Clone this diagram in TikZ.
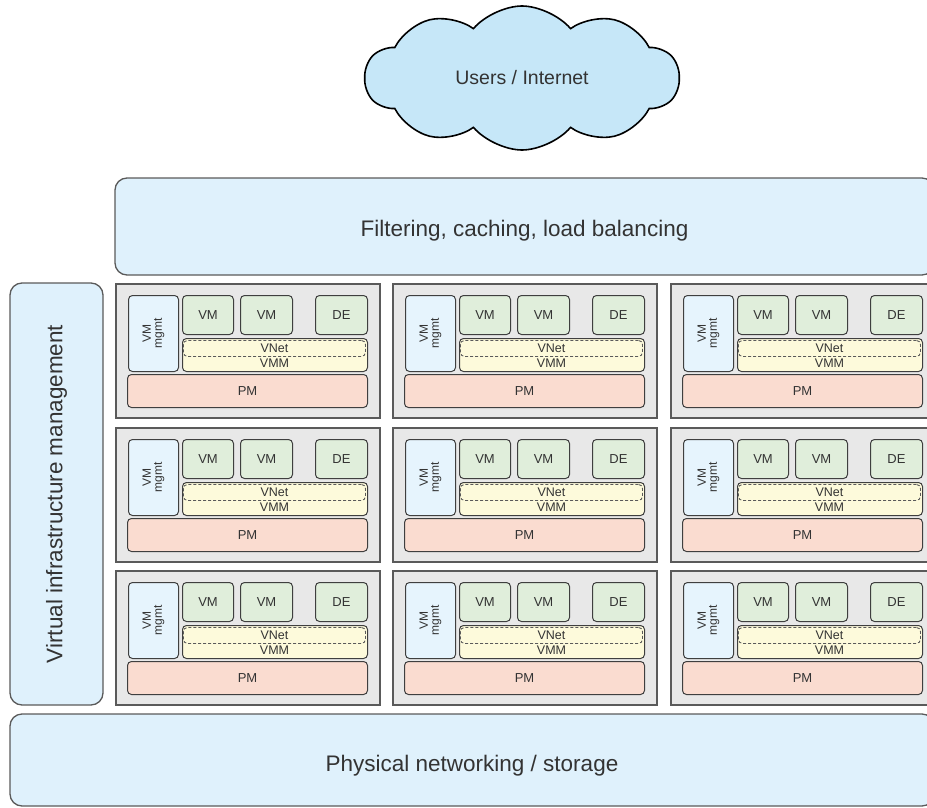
\documentclass[tikz,border=0pt]{standalone}
\usepackage{fontspec}
\setmainfont{Liberation Sans}
\usetikzlibrary{shapes.symbols}
\definecolor{boxblue}{HTML}{DFF1FC}
\definecolor{cloudblue}{HTML}{C6E7F8}
\definecolor{cellgray}{HTML}{E8E8E8}
\definecolor{mgmtblue}{HTML}{E6F4FD}
\definecolor{vmgreen}{HTML}{E0EEDB}
\definecolor{vmmyellow}{HTML}{FDFADB}
\definecolor{pmred}{HTML}{FADCD0}
\definecolor{textgray}{HTML}{333333}
\definecolor{linegray}{HTML}{5A5A5A}
\tikzset{
	bigbox/.style={draw=linegray, line width=1.3pt, fill=boxblue, rounded corners=12pt, inner sep=0pt, text=textgray, font=\fontsize{22.5}{27}\selectfont},
	cellbox/.style={draw=linegray, line width=1.8pt, fill=cellgray, anchor=north west, inner sep=0pt, minimum width=264pt, minimum height=134pt},
	smallbox/.style={draw=linegray!70!black, line width=1pt, rounded corners=4pt, anchor=north west, inner sep=0pt, text=textgray, font=\fontsize{13}{13}\selectfont},
	tinytext/.style={text=textgray, inner sep=0pt, font=\fontsize{12.5}{12.5}\selectfont}
}
\newcommand{\hostcell}[3] % name, x in px, y in px
{
	% grey frame
	\node[cellbox] (#1) at (#2,#3) {};
	% vm management
	\node[smallbox, fill=mgmtblue, minimum width=50pt, minimum height=76pt,
		label={[tinytext, rotate=90, align=center, font=\fontsize{12}{11}\selectfont]center:VM\\mgmt}] (#1mgmt) at (#2+13,#3+12) {};
	% guests
	\node[smallbox, fill=vmgreen, minimum width=51pt, minimum height=39pt] (#1vma) at (#2+67,#3+12) {VM};
	\node[smallbox, fill=vmgreen, minimum width=52pt, minimum height=39pt] (#1vmb) at (#2+125,#3+12) {VM};
	\node[smallbox, fill=vmgreen, minimum width=52pt, minimum height=39pt] (#1de) at (#2+200,#3+12) {DE};
	% hypervisor and virtual network
	\node[smallbox, fill=vmmyellow, minimum width=185pt, minimum height=33pt] (#1vmm) at (#2+67,#3+55) {};
	\node[tinytext, anchor=base] at (#2+159.5,#3+84.5) {VMM};
	\node[smallbox, draw=linegray, densely dashed, line width=0.9pt, minimum width=182pt, minimum height=16pt] (#1vnet) at (#2+68,#3+57) {};
	\node[tinytext] at (#1vnet.center) {VNet};
	% physical machine
	\node[smallbox, fill=pmred, minimum width=240pt, minimum height=33pt] (#1pm) at (#2+12,#3+91) {PM};
}

\begin{document}
\begin{tikzpicture}[x=1pt, y=-1pt]
	% 927 x 808 px, right side cut off
	\useasboundingbox (0,0) rectangle (927,808);
	\clip (0,0) rectangle (927,808);
	
	\node[cloud, cloud puffs=10, cloud puff arc=100, aspect=2.2, draw=black, line width=1.6pt, fill=cloudblue,
		minimum width=314pt, minimum height=144pt, text=textgray, font=\fontsize{19.5}{23}\selectfont] (users) at (522,78) {Users / Internet};
	
	\node[bigbox, minimum width=819pt, minimum height=97pt, text height=19pt, text depth=0pt] (filter) at (524.5,226.5) {Filtering, caching, load balancing};
	\node[bigbox, rotate=90, minimum width=422pt, minimum height=93pt] (vim) at (56.5,494) {Virtual infrastructure management};
	\node[bigbox, minimum width=924pt, minimum height=92pt, text height=23pt, text depth=0pt] (phys) at (472,760) {Physical networking / storage};
	
	\hostcell{hostaa}{115}{283};
	\hostcell{hostab}{392}{283};
	\hostcell{hostac}{670}{283};
	
	\hostcell{hostba}{115}{427};
	\hostcell{hostbb}{392}{427};
	\hostcell{hostbc}{670}{427};
	
	\hostcell{hostca}{115}{570};
	\hostcell{hostcb}{392}{570};
	\hostcell{hostcc}{670}{570};
\end{tikzpicture}
\end{document}
